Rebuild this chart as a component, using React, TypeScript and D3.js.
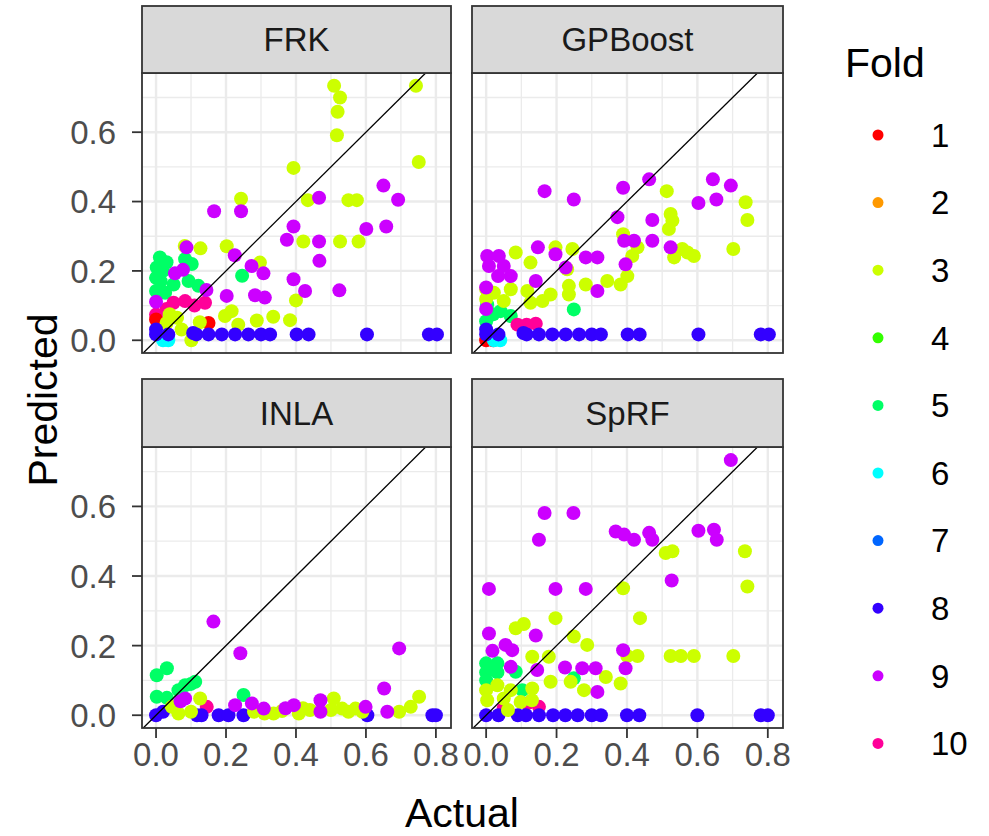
import React from 'react';
import * as d3 from 'd3';

// [actual, predicted, fold]
type Pt = [number, number, number];

const models = ['FRK', 'GPBoost', 'INLA', 'SpRF'];
const folds = ['1', '2', '3', '4', '5', '6', '7', '8', '9', '10'];
const foldColors = ['#FF0000', '#FF9900', '#CCFF00', '#33FF00', '#00FF66', '#00FFFF', '#0066FF', '#3300FF', '#CC00FF', '#FF0099'];
const xTicks = [0, 0.2, 0.4, 0.6, 0.8];
const yTicks = [0, 0.2, 0.4, 0.6];

const frkPoints: Pt[] = [
  [0.011, 0.239, 5], [0.002, 0.21, 5], [0.0, 0.18, 5], [0.013, 0.17, 5], [0.0, 0.142, 5], [0.026, 0.137, 5],
  [0.05, 0.161, 5], [0.083, 0.234, 5], [0.102, 0.22, 5], [0.093, 0.171, 5], [0.121, 0.157, 5], [0.246, 0.186, 5],
  [0.02, 0.2, 5], [0.03, 0.225, 5],
  [0.05, 0.108, 10], [0.083, 0.113, 10], [0.14, 0.108, 10], [0.0, 0.074, 10], [0.11, 0.1, 10], [0.03, 0.09, 10],
  [0.15, 0.05, 1], [0.0, 0.06, 1], [0.02, 0.0, 6], [0.035, 0.0, 6],
  [0.509, 0.734, 3], [0.526, 0.70, 3], [0.519, 0.659, 3], [0.517, 0.591, 3], [0.743, 0.734, 3], [0.751, 0.514, 3],
  [0.393, 0.497, 3], [0.243, 0.408, 3], [0.434, 0.404, 3], [0.55, 0.404, 3], [0.574, 0.404, 3], [0.421, 0.285, 3],
  [0.526, 0.285, 3], [0.579, 0.285, 3], [0.202, 0.271, 3], [0.127, 0.265, 3], [0.082, 0.272, 3], [0.297, 0.224, 3],
  [0.40, 0.115, 3], [0.216, 0.084, 3], [0.197, 0.07, 3], [0.288, 0.057, 3], [0.335, 0.068, 3], [0.383, 0.058, 3],
  [0.235, 0.045, 3], [0.125, 0.052, 3], [0.039, 0.075, 3], [0.03, 0.05, 3], [0.101, 0.0, 3], [0.073, 0.031, 3],
  [0.06, 0.065, 3],
  [0.166, 0.372, 9], [0.243, 0.372, 9], [0.466, 0.411, 9], [0.65, 0.446, 9], [0.692, 0.405, 9], [0.601, 0.321, 9],
  [0.658, 0.328, 9], [0.393, 0.328, 9], [0.374, 0.29, 9], [0.466, 0.285, 9], [0.467, 0.229, 9], [0.225, 0.245, 9],
  [0.273, 0.214, 9], [0.307, 0.193, 9], [0.393, 0.176, 9], [0.426, 0.142, 9], [0.524, 0.144, 9], [0.202, 0.128, 9],
  [0.283, 0.13, 9], [0.311, 0.123, 9], [0.087, 0.268, 9], [0.054, 0.193, 9], [0.077, 0.203, 9], [0.0, 0.111, 9],
  [0.144, 0.145, 9],
  [0.0, 0.031, 8], [0.0, 0.017, 8], [0.035, 0.017, 8], [0.106, 0.021, 8], [0.115, 0.017, 8], [0.15, 0.017, 8],
  [0.188, 0.017, 8], [0.226, 0.017, 8], [0.264, 0.017, 8], [0.30, 0.017, 8], [0.326, 0.017, 8], [0.402, 0.017, 8],
  [0.436, 0.017, 8], [0.603, 0.017, 8], [0.78, 0.017, 8], [0.803, 0.017, 8],
];

const gpboostPoints: Pt[] = [
  [0.249, 0.089, 5], [0.003, 0.103, 5], [0.041, 0.084, 5], [0.07, 0.07, 5], [0.0, 0.055, 5], [0.02, 0.075, 5],
  [0.089, 0.045, 10], [0.141, 0.048, 10], [0.115, 0.045, 10],
  [0.0, 0.0, 1], [0.02, 0.0, 1], [0.022, 0.0, 6], [0.04, 0.0, 6],
  [0.737, 0.398, 3], [0.742, 0.347, 3], [0.702, 0.263, 3], [0.513, 0.43, 3], [0.524, 0.364, 3], [0.529, 0.345, 3],
  [0.519, 0.321, 3], [0.389, 0.306, 3], [0.43, 0.268, 3], [0.415, 0.243, 3], [0.534, 0.239, 3], [0.557, 0.263, 3],
  [0.59, 0.243, 3], [0.572, 0.253, 3], [0.401, 0.185, 3], [0.382, 0.161, 3], [0.344, 0.171, 3], [0.283, 0.161, 3],
  [0.245, 0.263, 3], [0.197, 0.268, 3], [0.084, 0.253, 3], [0.126, 0.224, 3], [0.183, 0.132, 3], [0.235, 0.132, 3],
  [0.235, 0.157, 3], [0.0, 0.148, 3], [0.022, 0.137, 3], [0.07, 0.147, 3], [0.117, 0.142, 3], [0.0, 0.119, 3],
  [0.05, 0.113, 3], [0.126, 0.108, 3], [0.16, 0.113, 3], [0.23, 0.205, 3],
  [0.166, 0.43, 9], [0.249, 0.406, 9], [0.389, 0.44, 9], [0.463, 0.464, 9], [0.644, 0.464, 9], [0.695, 0.446, 9],
  [0.603, 0.396, 9], [0.654, 0.406, 9], [0.373, 0.355, 9], [0.472, 0.347, 9], [0.392, 0.287, 9], [0.42, 0.287, 9],
  [0.472, 0.287, 9], [0.524, 0.268, 9], [0.396, 0.219, 9], [0.316, 0.142, 9], [0.147, 0.268, 9], [0.197, 0.248, 9],
  [0.226, 0.21, 9], [0.283, 0.239, 9], [0.316, 0.239, 9], [0.003, 0.243, 9], [0.036, 0.243, 9], [0.008, 0.214, 9],
  [0.05, 0.214, 9], [0.07, 0.185, 9], [0.034, 0.185, 9], [0.141, 0.171, 9], [0.0, 0.152, 9], [0.0, 0.09, 9],
  [0.0, 0.031, 8], [0.0, 0.017, 8], [0.035, 0.017, 8], [0.106, 0.021, 8], [0.115, 0.017, 8], [0.15, 0.017, 8],
  [0.188, 0.017, 8], [0.226, 0.017, 8], [0.264, 0.017, 8], [0.30, 0.017, 8], [0.326, 0.017, 8], [0.402, 0.017, 8],
  [0.436, 0.017, 8], [0.603, 0.017, 8], [0.78, 0.017, 8], [0.803, 0.017, 8],
];

const inlaPoints: Pt[] = [
  [0.002, 0.115, 5], [0.031, 0.135, 5], [0.002, 0.053, 5], [0.083, 0.086, 5], [0.112, 0.096, 5], [0.064, 0.072, 5],
  [0.25, 0.058, 5], [0.031, 0.05, 5], [0.10, 0.09, 5],
  [0.145, 0.024, 10],
  [0.0, 0.0, 8], [0.02, 0.01, 8], [0.117, 0.0, 8], [0.13, 0.0, 8], [0.179, 0.0, 8], [0.207, 0.0, 8],
  [0.25, 0.0, 8], [0.604, 0.0, 8], [0.79, 0.0, 8], [0.80, 0.0, 8],
  [0.126, 0.048, 3], [0.508, 0.048, 3], [0.752, 0.053, 3], [0.728, 0.024, 3], [0.695, 0.01, 3], [0.045, 0.024, 3],
  [0.064, 0.005, 3], [0.10, 0.01, 3], [0.28, 0.01, 3], [0.31, 0.005, 3], [0.336, 0.005, 3], [0.36, 0.012, 3],
  [0.408, 0.005, 3], [0.42, 0.02, 3], [0.44, 0.015, 3], [0.50, 0.015, 3], [0.532, 0.019, 3], [0.55, 0.01, 3],
  [0.57, 0.019, 3], [0.59, 0.01, 3],
  [0.164, 0.269, 9], [0.241, 0.178, 9], [0.695, 0.192, 9], [0.652, 0.077, 9], [0.661, 0.01, 9], [0.47, 0.043, 9],
  [0.47, 0.01, 9], [0.394, 0.029, 9], [0.37, 0.02, 9], [0.308, 0.019, 9], [0.274, 0.034, 9], [0.226, 0.029, 9],
  [0.599, 0.024, 9], [0.083, 0.048, 9], [0.07, 0.04, 9],
];

const sprfPoints: Pt[] = [
  [0.0, 0.149, 5], [0.032, 0.149, 5], [0.0, 0.123, 5], [0.032, 0.123, 5], [0.0, 0.10, 5], [0.084, 0.125, 5],
  [0.103, 0.072, 5], [0.249, 0.106, 5], [0.015, 0.135, 5],
  [0.117, 0.034, 10], [0.15, 0.024, 10], [0.05, 0.02, 10],
  [0.735, 0.471, 3], [0.742, 0.37, 3], [0.51, 0.466, 3], [0.529, 0.471, 3], [0.389, 0.365, 3], [0.437, 0.279, 3],
  [0.197, 0.279, 3], [0.084, 0.25, 3], [0.107, 0.262, 3], [0.249, 0.226, 3], [0.287, 0.202, 3], [0.131, 0.168, 3],
  [0.178, 0.168, 3], [0.401, 0.17, 3], [0.43, 0.17, 3], [0.524, 0.17, 3], [0.553, 0.17, 3], [0.59, 0.17, 3],
  [0.702, 0.17, 3], [0.183, 0.096, 3], [0.24, 0.096, 3], [0.278, 0.072, 3], [0.34, 0.11, 3], [0.382, 0.091, 3],
  [0.131, 0.077, 3], [0.0, 0.072, 3], [0.032, 0.086, 3], [0.07, 0.072, 3], [0.003, 0.043, 3], [0.05, 0.048, 3],
  [0.098, 0.038, 3], [0.13, 0.043, 3],
  [0.695, 0.733, 9], [0.166, 0.581, 9], [0.248, 0.581, 9], [0.15, 0.504, 9], [0.368, 0.528, 9], [0.392, 0.519, 9],
  [0.42, 0.504, 9], [0.463, 0.524, 9], [0.472, 0.504, 9], [0.603, 0.53, 9], [0.647, 0.533, 9], [0.655, 0.504, 9],
  [0.527, 0.387, 9], [0.008, 0.363, 9], [0.197, 0.363, 9], [0.283, 0.363, 9], [0.008, 0.235, 9], [0.141, 0.229, 9],
  [0.055, 0.202, 9], [0.074, 0.187, 9], [0.018, 0.185, 9], [0.389, 0.187, 9], [0.396, 0.135, 9], [0.224, 0.137, 9],
  [0.273, 0.135, 9], [0.311, 0.135, 9], [0.316, 0.067, 9], [0.07, 0.139, 9], [0.145, 0.13, 9],
  [0.0, 0.0, 8], [0.035, 0.0, 8], [0.09, 0.0, 8], [0.113, 0.0, 8], [0.15, 0.0, 8], [0.19, 0.0, 8],
  [0.225, 0.0, 8], [0.26, 0.0, 8], [0.30, 0.0, 8], [0.326, 0.0, 8], [0.40, 0.0, 8], [0.435, 0.0, 8],
  [0.60, 0.0, 8], [0.78, 0.0, 8], [0.80, 0.0, 8],
  [0.062, 0.015, 3],
];

const modelPoints = [frkPoints, gpboostPoints, inlaPoints, sprfPoints];

const W = 989;
const H = 836;
const colX = [[142, 451], [472, 783]];
const rowY = [
  { strip: 6, top: 73, bottom: 353 },
  { strip: 379, top: 447, bottom: 728 },
];
const font = '"Liberation Sans", Arial, sans-serif';

function expand(ext: [number, number]): [number, number] {
  const pad = (ext[1] - ext[0]) * 0.05;
  return [ext[0] - pad, ext[1] + pad];
}

export default function App() {
  const all = modelPoints.flat();
  const xDom = expand(d3.extent(all, (d) => d[0]) as [number, number]);
  const yDom = expand(d3.extent(all, (d) => d[1]) as [number, number]);
  const color = d3.scaleOrdinal<number, string>().domain(d3.range(1, 11)).range(foldColors);

  return (
    <svg width={W} height={H} style={{ position: 'absolute', left: 0, top: 0, background: '#fff' }} fontFamily={font}>
      <rect width={W} height={H} fill="#fff" />
      {models.map((name, i) => {
        const c = i % 2;
        const r = Math.floor(i / 2);
        const [x0, x1] = colX[c];
        const { strip, top, bottom } = rowY[r];
        const x = d3.scaleLinear().domain(xDom).range([x0, x1]);
        const y = d3.scaleLinear().domain(yDom).range([bottom, top]);
        const xMinor = xTicks.slice(0, -1).map((t) => t + 0.1);
        const yMinor = yTicks.map((t) => t + 0.1).filter((t) => t < yDom[1]);
        const clipId = `clip-${i}`;
        const lo = Math.max(xDom[0], yDom[0]);
        const hi = Math.min(xDom[1], yDom[1]);
        return (
          <g key={name}>
            <defs>
              <clipPath id={clipId}>
                <rect x={x0} y={top} width={x1 - x0} height={bottom - top} />
              </clipPath>
            </defs>
            <rect x={x0} y={top} width={x1 - x0} height={bottom - top} fill="#fff" />
            {xMinor.map((t) => (
              <line key={'xm' + t} x1={x(t)} x2={x(t)} y1={top} y2={bottom} stroke="#EBEBEB" strokeWidth={1.3} />
            ))}
            {yMinor.map((t) => (
              <line key={'ym' + t} x1={x0} x2={x1} y1={y(t)} y2={y(t)} stroke="#EBEBEB" strokeWidth={1.3} />
            ))}
            {xTicks.map((t) => (
              <line key={'x' + t} x1={x(t)} x2={x(t)} y1={top} y2={bottom} stroke="#EBEBEB" strokeWidth={2.4} />
            ))}
            {yTicks.map((t) => (
              <line key={'y' + t} x1={x0} x2={x1} y1={y(t)} y2={y(t)} stroke="#EBEBEB" strokeWidth={2.4} />
            ))}
            <g clipPath={`url(#${clipId})`}>
              {modelPoints[i].map((d, j) => (
                <circle key={j} cx={x(d[0])} cy={y(d[1])} r={7} fill={color(d[2])} />
              ))}
              <line x1={x(lo)} y1={y(lo)} x2={x(hi)} y2={y(hi)} stroke="#000" strokeWidth={1.3} />
            </g>
            <rect x={x0} y={top} width={x1 - x0} height={bottom - top} fill="none" stroke="#333333" strokeWidth={1.8} />
            <rect x={x0} y={strip} width={x1 - x0} height={top - strip} fill="#D9D9D9" stroke="#333333" strokeWidth={1.8} />
            <text x={(x0 + x1) / 2} y={(strip + top) / 2} dy="0.36em" textAnchor="middle" fontSize={33} fill="#1A1A1A">
              {name}
            </text>
            {c === 0 &&
              yTicks.map((t) => (
                <g key={'yt' + t}>
                  <line x1={x0 - 10} x2={x0} y1={y(t)} y2={y(t)} stroke="#333333" strokeWidth={1.8} />
                  <text x={x0 - 26} y={y(t)} dy="0.36em" textAnchor="end" fontSize={33} fill="#4D4D4D">
                    {d3.format('.1f')(t)}
                  </text>
                </g>
              ))}
            {r === 1 &&
              xTicks.map((t) => (
                <g key={'xt' + t}>
                  <line x1={x(t)} x2={x(t)} y1={bottom} y2={bottom + 10} stroke="#333333" strokeWidth={1.8} />
                  <text x={x(t)} y={bottom + 13} dy="0.76em" textAnchor="middle" fontSize={33} fill="#4D4D4D">
                    {d3.format('.1f')(t)}
                  </text>
                </g>
              ))}
          </g>
        );
      })}
      <text x={462} y={812} dy="0.36em" textAnchor="middle" fontSize={41} fill="#000">
        Actual
      </text>
      <text transform="translate(42,400) rotate(-90)" dy="0.36em" textAnchor="middle" fontSize={41} fill="#000">
        Predicted
      </text>
      <text x={845} y={62} dy="0.36em" fontSize={41} fill="#000">
        Fold
      </text>
      {folds.map((f, k) => {
        const cy = 135 + k * 67.6;
        return (
          <g key={f}>
            <circle cx={878} cy={cy} r={5.5} fill={foldColors[k]} />
            <text x={931} y={cy} dy="0.36em" fontSize={33} fill="#000">
              {f}
            </text>
          </g>
        );
      })}
    </svg>
  );
}
